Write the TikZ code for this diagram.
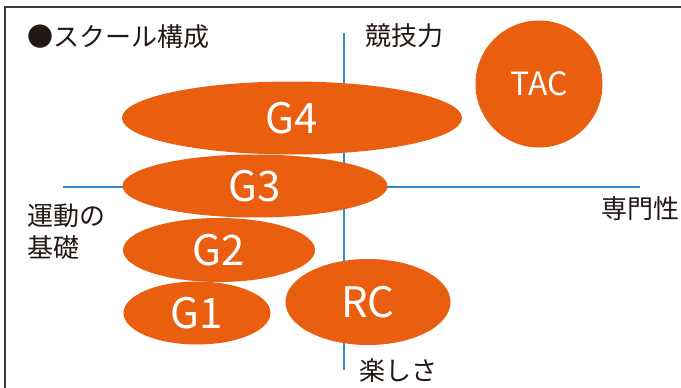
\documentclass[tikz,border=0pt]{standalone}
\usepackage{fontspec}
\setmainfont{Noto Sans CJK JP}
\usetikzlibrary{shapes.geometric}
\definecolor{og}{HTML}{E95E0F}
\definecolor{ax}{HTML}{2E8BCB}
\definecolor{ink}{HTML}{231815}
\begin{document}
\begin{tikzpicture}[x=1pt,y=-1pt,
  blob/.style={ellipse,fill=og,draw=none,inner sep=0pt,text=white,font=\fontsize{42}{42}\selectfont},
  lbl/.style={text=ink,inner sep=0pt,font=\fontsize{26}{26}\selectfont},
  axis/.style={draw=ax,line width=1.6pt}]
\useasboundingbox (0,0) rectangle (681,388);
\fill[white] (0,0) rectangle (681,388);
\draw[draw=ink!85,line width=1.6pt] (5,388) -- (5,7) -- (681,7);
% axes
\coordinate (vt) at (344,33);
\coordinate (vb) at (344,370);
\coordinate (hl) at (63,187);
\coordinate (hr) at (640,187);
\draw[axis] (vt) -- (vb);
\draw[axis] (hl) -- (hr);
% groups
\node[blob,minimum width=340pt,minimum height=73pt] (g4) at (292,118) {G4};
\node[blob,minimum width=265pt,minimum height=63pt] (g3) at (255,186) {G3};
\node[blob,minimum width=192pt,minimum height=64pt] (g2) at (219,250) {G2};
\node[blob,minimum width=147pt,minimum height=63pt] (g1) at (197,313) {G1};
\node[blob,minimum width=165pt,minimum height=86pt] (rc) at (368,302) {RC};
\node[circle,fill=og,inner sep=0pt,minimum size=127pt,text=white,font=\fontsize{32}{32}\selectfont] (tac) at (539,84) {TAC};
% labels
\node[lbl,anchor=west] (title) at (27,37) {●スクール構成};
\node[lbl] (kyogi) at (404,36) {競技力};
\node[lbl,anchor=west] (undo) at (27,216) {運動の};
\node[lbl,anchor=west] (kiso) at (27,248) {基礎};
\node[lbl,anchor=west] (senmon) at (601,209) {専門性};
\node[lbl,anchor=west] (tanoshi) at (359,371) {楽しさ};
\end{tikzpicture}
\end{document}
